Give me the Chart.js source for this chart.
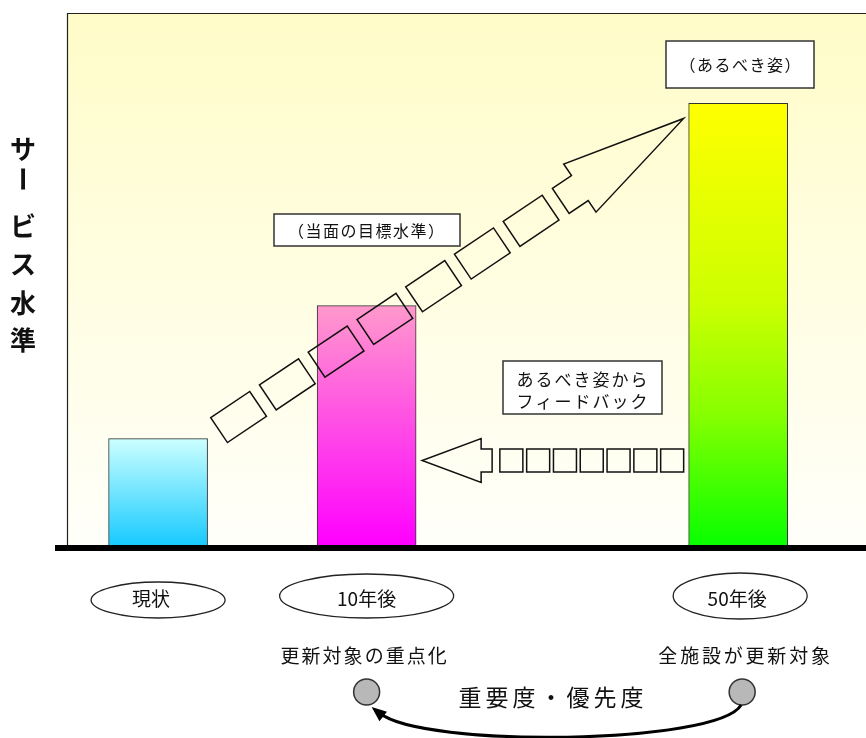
<!DOCTYPE html>
<html lang="ja">
<head>
<meta charset="utf-8">
<title>サービス水準</title>
<script src="https://cdn.jsdelivr.net/npm/chart.js@4.4.1/dist/chart.umd.min.js"></script>
<style>
  html, body { margin: 0; padding: 0; background: #fff; }
  canvas { display: block; }
</style>
</head>
<body>
<canvas id="grafico" width="866" height="738"></canvas>
<script>
// 段階・時間軸上の位置・サービス水準
const stages = ['現状', '10年後', '50年後'];
const stagePos = [11.4, 37.5, 84];
const levels = [20, 45, 83];
const notes = ['', '更新対象の重点化', '全施設が更新対象'];
const CHOON = '\u30FC';   // 長音記号（縦書きでは回転させる）
const yTitle = ['サ', CHOON, 'ビ', 'ス', '水', '準'];

const JP = '"Noto Sans CJK JP", "Noto Sans", sans-serif';

// 棒のグラデーション（上 → 下）
const barColors = [
    [[0, '#CCFFFF'], [1, '#18CAFF']],
    [[0, '#FF99CC'], [1, '#FF00FF']],
    [[0, '#FFFF00'], [0.45, '#CCFF00'], [0.7, '#88FF00'], [1, '#08FF00']]
];

function gradiente(ctx) {
    const chart = ctx.chart;
    const i = ctx.dataIndex;
    if (!chart.chartArea) return barColors[i][0][1];
    const y = chart.scales.y;
    const g = chart.ctx.createLinearGradient(0, y.getPixelForValue(levels[i]), 0, y.getPixelForValue(0));
    barColors[i].forEach(([s, c]) => g.addColorStop(s, c));
    return g;
}

// 矢印（四角のブロック＋矢じり）
function frecciaABlocchi(ctx, x0, y0, x1, y1, o) {
    const len = Math.hypot(x1 - x0, y1 - y0);
    const ux = (x1 - x0) / len, uy = (y1 - y0) / len;
    const nx = -uy, ny = ux;
    const P = (s, t) => [x0 + ux * s + nx * t, y0 + uy * s + ny * t];
    const poly = pts => {
        ctx.moveTo(...pts[0]);
        pts.slice(1).forEach(p => ctx.lineTo(...p));
        ctx.closePath();
    };
    ctx.beginPath();
    for (let i = 0; i < o.n; i++) {
        const s0 = i * o.pitch, s1 = s0 + o.block;
        poly([P(s0, -o.w), P(s1, -o.w), P(s1, o.w), P(s0, o.w)]);
    }
    const hb = len - o.head, sb = hb - o.stub;
    poly([P(sb, -o.w), P(hb, -o.w), P(hb, -o.hw), P(len, 0), P(hb, o.hw), P(hb, o.w), P(sb, o.w)]);
    ctx.stroke();
}

function riquadro(ctx, x, y, w, h) {
    ctx.fillStyle = '#fff';
    ctx.fillRect(x, y, w, h);
    ctx.strokeStyle = '#333';
    ctx.lineWidth = 1.5;
    ctx.strokeRect(x, y, w, h);
}

function testo(ctx, t, x, y, size, spacing, weight) {
    ctx.font = (weight || 'normal') + ' ' + size + 'px ' + JP;
    ctx.letterSpacing = (spacing || 0) + 'px';
    ctx.fillStyle = '#111';
    ctx.textAlign = 'center';
    ctx.textBaseline = 'middle';
    ctx.fillText(t, x + (spacing || 0) / 2, y);
    ctx.letterSpacing = '0px';
}

const sfondo = {
    id: 'sfondo',
    beforeDatasetsDraw(chart) {
        const {ctx, chartArea: a} = chart;
        const g = ctx.createLinearGradient(0, a.top, 0, a.bottom);
        g.addColorStop(0, '#FFFCC8');
        g.addColorStop(1, '#FFFFFA');
        ctx.save();
        ctx.fillStyle = g;
        ctx.fillRect(a.left, a.top, a.right - a.left, a.bottom - a.top);
        ctx.strokeStyle = '#222';
        ctx.lineWidth = 1.2;
        ctx.beginPath();
        ctx.moveTo(a.left + 0.5, a.bottom);
        ctx.lineTo(a.left + 0.5, a.top + 0.5);
        ctx.lineTo(a.right, a.top + 0.5);
        ctx.stroke();
        ctx.restore();
    }
};

const decorazioni = {
    id: 'decorazioni',
    afterDatasetsDraw(chart) {
        const {ctx, chartArea: a} = chart;
        const bars = chart.getDatasetMeta(0).data;
        const left = b => b.x - b.width / 2, right = b => b.x + b.width / 2;
        ctx.save();

        // 基準線
        ctx.fillStyle = '#000';
        ctx.fillRect(a.left - 12, a.bottom, a.right - a.left + 12, 6);

        // 現状 → あるべき姿
        ctx.strokeStyle = '#111';
        ctx.lineWidth = 1.5;
        ctx.lineJoin = 'miter';
        frecciaABlocchi(ctx, right(bars[0]) + 11.5, bars[0].y - 8.5, left(bars[2]) - 5, bars[2].y + 15,
            {n: 7, block: 47, pitch: 58.7, w: 15, hw: 29, head: 125, stub: 23});

        // あるべき姿からのフィードバック
        const fy = a.bottom - 84.5;
        frecciaABlocchi(ctx, left(bars[2]) - 5, fy, right(bars[1]) + 6, fy,
            {n: 7, block: 23, pitch: 26.8, w: 11.5, hw: 22, head: 59, stub: 11});

        // 枠付きの説明
        riquadro(ctx, 274, 214, 186, 32);
        testo(ctx, '（当面の目標水準）', 366, 231, 16, 1.5);
        riquadro(ctx, 666, 41, 148, 47);
        testo(ctx, '（あるべき姿）', 740, 65, 16, 1.5);
        riquadro(ctx, 503, 361, 159, 53);
        testo(ctx, 'あるべき姿から', 582, 380, 17, 2);
        testo(ctx, 'フィードバック', 582, 402, 17, 2);

        // 縦書きの軸タイトル
        const ty = [149, 179, 226, 264, 303, 340];
        yTitle.forEach((c, i) => {
            ctx.save();
            ctx.translate(23, ty[i]);
            if (c === CHOON) ctx.rotate(Math.PI / 2);
            testo(ctx, c, 0, 0, 26, 0, 'bold');
            ctx.restore();
        });

        // 段階のラベル
        const ell = [[600, 67, 18], [596, 87, 22], [596, 67, 23]];
        const shift = [-7, 0, -3];
        stages.forEach((s, i) => {
            const cx = bars[i].x + (i === 2 ? 2 : 0);
            const [cy, rx, ry] = ell[i];
            ctx.strokeStyle = '#222';
            ctx.lineWidth = 1.3;
            ctx.beginPath();
            ctx.ellipse(cx, cy, rx, ry, 0, 0, Math.PI * 2);
            ctx.stroke();
            testo(ctx, s, cx + shift[i], 599, 19, 0);
        });
        testo(ctx, notes[1], bars[1].x - 3, 656, 19, 2);
        testo(ctx, notes[2], bars[2].x + 6, 656, 19, 2.8);

        // 重要度・優先度
        const c1 = [bars[1].x, 692], c2 = [bars[2].x + 4, 692];
        [c1, c2].forEach(([x, y]) => {
            ctx.beginPath();
            ctx.arc(x, y, 13, 0, Math.PI * 2);
            ctx.fillStyle = '#B8B8B8';
            ctx.fill();
            ctx.strokeStyle = '#333';
            ctx.lineWidth = 1.5;
            ctx.stroke();
        });
        const p0 = [c2[0] - 1, 705], k1 = [c2[0] - 25, 745], k2 = [c1[0] + 55, 748], p3 = [c1[0] + 5, 707];
        ctx.strokeStyle = '#000';
        ctx.lineWidth = 3;
        ctx.beginPath();
        ctx.moveTo(...p0);
        ctx.bezierCurveTo(...k1, ...k2, p3[0] + 8, p3[1] + 6);
        ctx.stroke();
        const ang = Math.atan2(p3[1] - k2[1], p3[0] - k2[0]);
        ctx.fillStyle = '#000';
        ctx.beginPath();
        ctx.moveTo(...p3);
        ctx.lineTo(p3[0] - 15 * Math.cos(ang) + 6 * Math.sin(ang), p3[1] - 15 * Math.sin(ang) - 6 * Math.cos(ang));
        ctx.lineTo(p3[0] - 15 * Math.cos(ang) - 6 * Math.sin(ang), p3[1] - 15 * Math.sin(ang) + 6 * Math.cos(ang));
        ctx.closePath();
        ctx.fill();
        testo(ctx, '重要度・優先度', 551, 697, 23, 4);

        ctx.restore();
    }
};

new Chart(document.getElementById('grafico'), {
    type: 'bar',
    data: {
        datasets: [{
            data: stagePos.map((x, i) => ({x: x, y: levels[i]})),
            backgroundColor: gradiente,
            borderColor: '#333',
            borderWidth: 1,
            barThickness: 99
        }]
    },
    options: {
        responsive: false,
        animation: false,
        devicePixelRatio: 1,
        layout: { padding: { left: 67, top: 13, right: 0, bottom: 193 } },
        plugins: { legend: { display: false }, tooltip: { enabled: false } },
        scales: {
            x: { type: 'linear', min: 0, max: 100, offset: false, display: false },
            y: { min: 0, max: 100, display: false }
        }
    },
    plugins: [sfondo, decorazioni]
});
</script>
</body>
</html>
